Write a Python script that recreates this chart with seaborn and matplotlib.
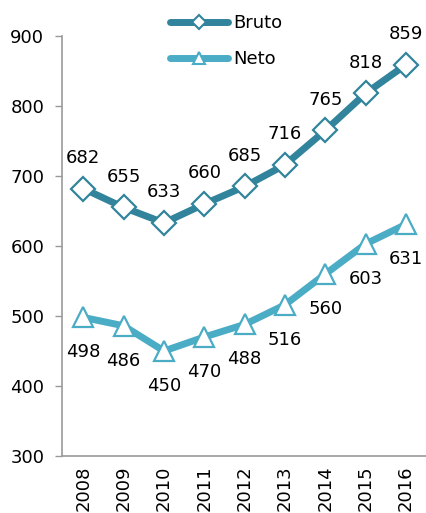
import matplotlib
matplotlib.use("Agg")
import matplotlib.pyplot as plt
import pandas as pd
import seaborn as sns
from matplotlib.lines import Line2D

# Data
years = ["2008", "2009", "2010", "2011", "2012", "2013", "2014", "2015", "2016"]
bruto = [682, 655, 633, 660, 685, 716, 765, 818, 859]
neto = [498, 486, 450, 470, 488, 516, 560, 603, 631]

df = pd.DataFrame({"year": years + years,
                   "value": bruto + neto,
                   "serie": ["Bruto"] * len(years) + ["Neto"] * len(years)})

sns.set_style("white")
plt.rcParams['font.family'] = ['DejaVu Sans']
plt.rcParams['text.color'] = 'black'
plt.rcParams['xtick.color'] = 'black'
plt.rcParams['ytick.color'] = 'black'

col_bruto = "#31849B"
col_neto = "#4BACC6"

fig = plt.figure(figsize=(4.27, 5.13), dpi=100)
ax = fig.add_axes([0.146, 0.111, 0.854, 0.819])

sns.lineplot(data=df, x="year", y="value", hue="serie", style="serie",
             palette={"Bruto": col_bruto, "Neto": col_neto},
             markers={"Bruto": "D", "Neto": "^"}, dashes=False,
             linewidth=5, markersize=12, markerfacecolor="white",
             markeredgewidth=1.6, ax=ax, legend=False)

# marker edges follow the line colour
for line, c in zip(ax.lines, [col_bruto, col_neto]):
    line.set_markeredgecolor(c)
ax.lines[1].set_markersize(14)

for i, v in enumerate(bruto):
    ax.annotate(str(v), (i, v), xytext=(0, 22), textcoords="offset points",
                ha="center", va="center", fontsize=13)
for i, v in enumerate(neto):
    ax.annotate(str(v), (i, v), xytext=(0, -25), textcoords="offset points",
                ha="center", va="center", fontsize=13)

ax.set_xlim(-0.52, 8.52)
ax.set_ylim(300, 900)
ax.set_yticks(range(300, 901, 100))
ax.set_xlabel("")
ax.set_ylabel("")
ax.tick_params(axis="x", labelrotation=90, labelsize=13, direction="inout",
               length=8, width=1, color="#999999", pad=3)
ax.tick_params(axis="y", labelsize=13, direction="out", length=5, width=1,
               color="#999999", pad=8, left=True)
for s in ["top", "right"]:
    ax.spines[s].set_visible(False)
for s in ["left", "bottom"]:
    ax.spines[s].set_color("#999999")
    ax.spines[s].set_linewidth(1.2)

# legend
handles = [Line2D([], [], color=col_bruto, lw=5, marker="D", markersize=7,
                  markerfacecolor="white", markeredgecolor=col_bruto, markeredgewidth=1.5),
           Line2D([], [], color=col_neto, lw=5, marker="^", markersize=8,
                  markerfacecolor="white", markeredgecolor=col_neto, markeredgewidth=1.5)]
ax.legend(handles, ["Bruto", "Neto"], loc="upper center", bbox_to_anchor=(0.45, 1.09),
          frameon=False, fontsize=13, handlelength=3.2, handletextpad=0.3,
          labelspacing=1.0)

fig.savefig("out.png", dpi=100)
